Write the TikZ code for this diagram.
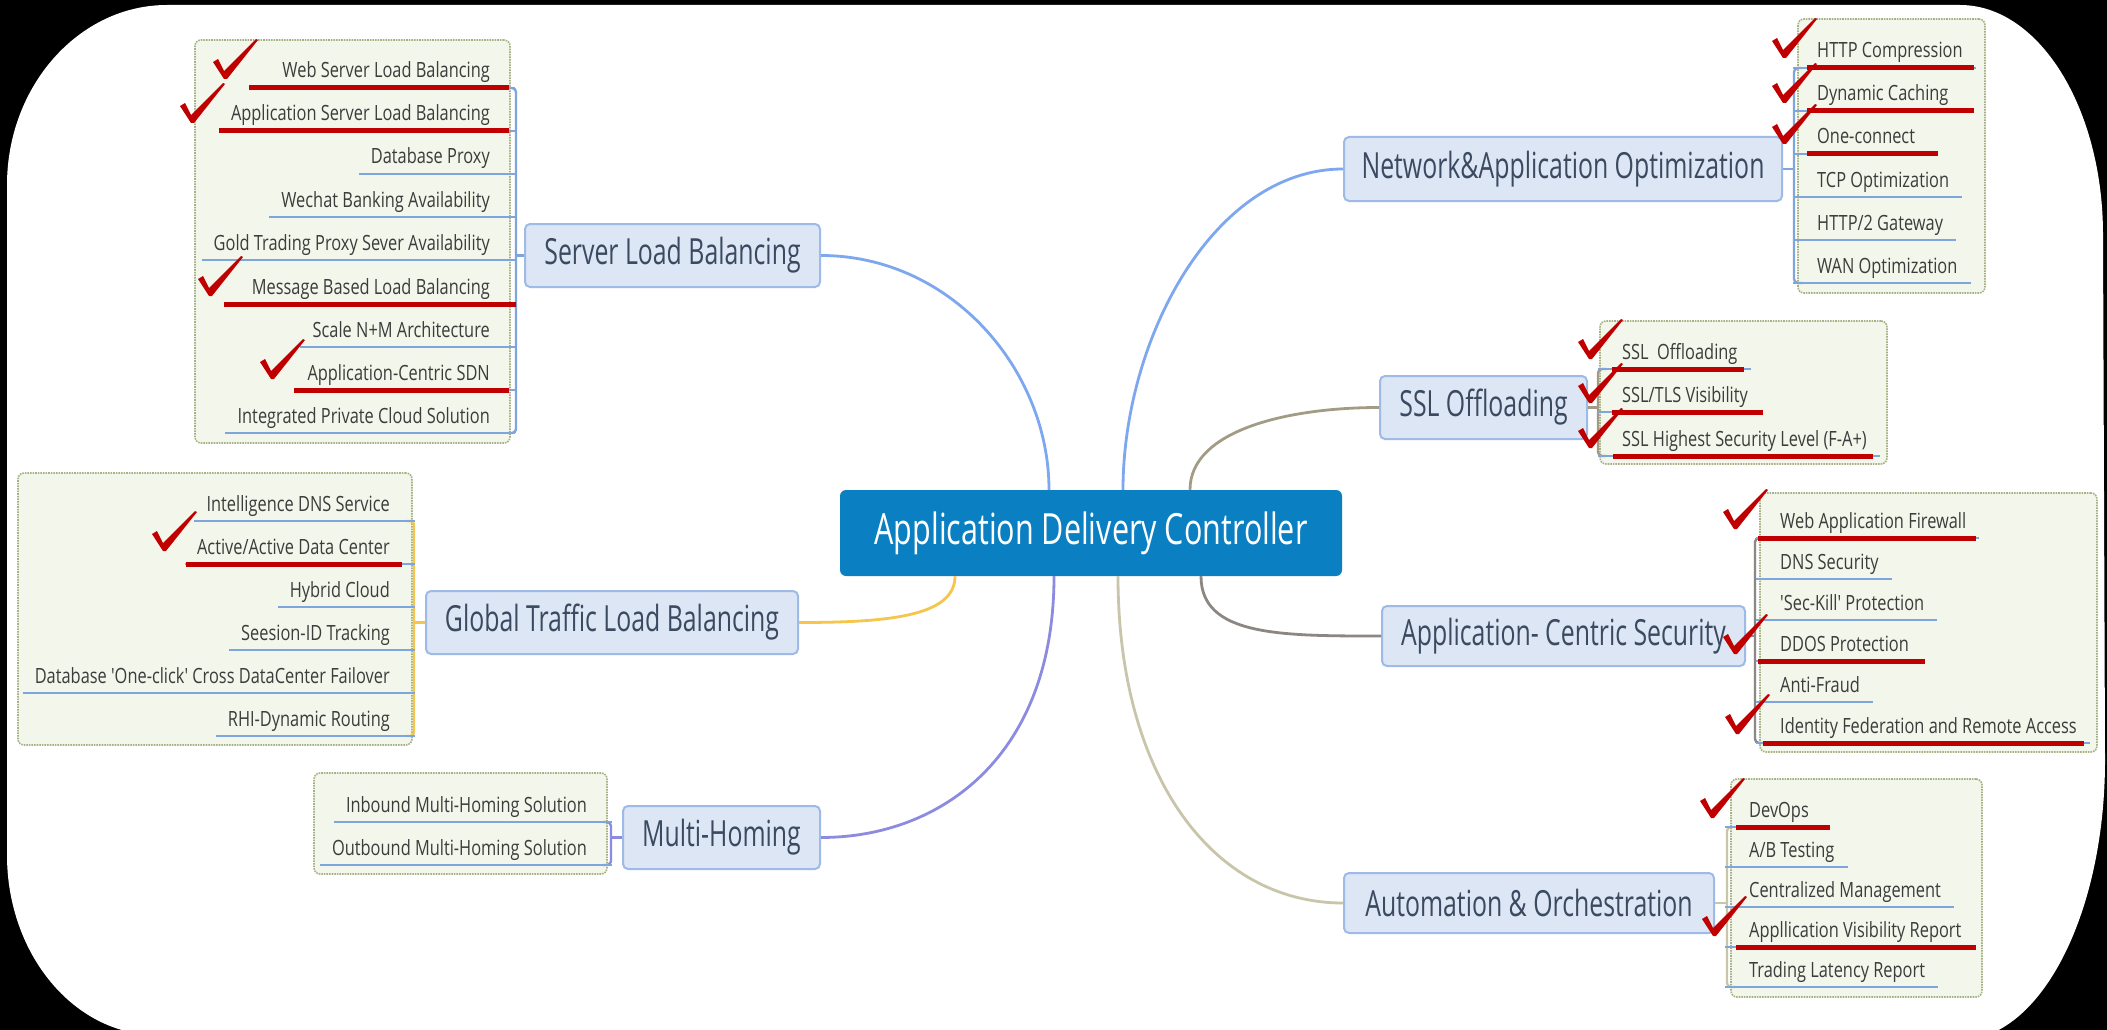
\documentclass[tikz,border=0pt]{standalone}
\usepackage{fontspec}
\setmainfont{Open Sans}
\newfontfamily\ctrfont{Open Sans}[FakeStretch=0.71]
\newfontfamily\brfont{Open Sans}[FakeStretch=0.69]
\newfontfamily\itfont{Open Sans}[FakeStretch=0.78]
\usetikzlibrary{calc}
\definecolor{adcblue}{HTML}{0A7FC2}
\definecolor{brfill}{HTML}{DCE6F4}
\definecolor{brborder}{HTML}{9DBBE6}
\definecolor{brtext}{HTML}{3B4A60}
\definecolor{grpfill}{HTML}{F3F6EA}
\definecolor{grpborder}{HTML}{A6B184}
\definecolor{itemcol}{HTML}{3C3C3C}
\definecolor{ulblue}{HTML}{7FA6DC}
\definecolor{chkred}{HTML}{C00000}
\definecolor{lnblue}{HTML}{7DA7EE}
\definecolor{lnolive}{HTML}{A39C85}
\definecolor{lngrey}{HTML}{8C8782}
\definecolor{lnkhaki}{HTML}{C9C5AA}
\definecolor{lnpurple}{HTML}{8D8BE0}
\definecolor{lnyellow}{HTML}{F5C54C}
\tikzset{
  adcbox/.style={rounded corners=6pt, fill=adcblue, text=white, minimum width=502pt, minimum height=86pt, inner sep=0pt, font=\ctrfont\fontsize{43}{50}\selectfont},
  brbox/.style={rounded corners=5pt, draw=brborder, line width=2pt, fill=brfill, text=brtext, minimum height=63pt, inner sep=0pt, font=\brfont\fontsize{36}{42}\selectfont},
  grpbox/.style={rounded corners=6pt, draw=grpborder, densely dotted, line width=1.6pt, fill=grpfill, inner sep=0pt},
  itemtext/.style={inner sep=0pt, text=itemcol, font=\itfont\fontsize{21}{25}\selectfont},
  uline/.style={draw=ulblue, line width=2.6pt},
  redline/.style={draw=chkred, line width=5pt},
  mainln/.style={line width=2.8pt},
  brk/.style={line width=2.4pt, rounded corners=4pt},
  chk/.pic={\fill[chkred] (-12,-16) -- (-7,-19) -- (-1,-7) -- (31,-39) -- (33,-38) -- (2,1) -- (-1,1) -- cycle;}
}
\newcommand\LItem[4]{%
  \node[itemtext, anchor=base east] (#1) at (#4,#2-10) {#3};
  \draw[uline] ($(#1.base west)+(-12,10)$) -- (#4+25,#2);}
\newcommand\RItem[4]{%
  \node[itemtext, anchor=base west] (#1) at (#4,#2-10) {#3};
  \draw[uline] (#4-24,#2) -- ($(#1.base east)+(13,10)$);}
\newcommand\RedL[3]{\draw[redline] ($(#1.base west)+(-#2,10)$) -- ($(#1.base east)+(#3,10)$);}
\begin{document}
\begin{tikzpicture}[x=1pt,y=-1pt]
\useasboundingbox (0,0) rectangle (2107,1030);
\clip (0,0) rectangle (2107,1030);
\fill[black] (0,0) rectangle (2107,1030);
\fill[white] (167,5) -- (1960,5) .. controls (2039,5) and (2103,108) .. (2103,235)
  -- (2105,760) .. controls (2105,915) and (2040,1040) .. (1960,1040)
  -- (157,1035) .. controls (74,1035) and (7,954) .. (7,855)
  -- (7,185) .. controls (7,86) and (79,5) .. (167,5) -- cycle;

% group boxes
\node[grpbox, minimum width=315pt, minimum height=403pt] (gslb) at (352.5,241.5) {};
\node[grpbox, minimum width=394pt, minimum height=272pt] (ggtlb) at (215,609) {};
\node[grpbox, minimum width=293pt, minimum height=101pt] (gmh) at (460.5,823.5) {};
\node[grpbox, minimum width=187pt, minimum height=274pt] (gnao) at (1891.5,156) {};
\node[grpbox, minimum width=287pt, minimum height=143pt] (gssl) at (1743.5,392.5) {};
\node[grpbox, minimum width=337pt, minimum height=259pt] (gacs) at (1928.5,622.5) {};
\node[grpbox, minimum width=251pt, minimum height=218pt] (gauto) at (1856.5,888) {};

% main nodes
\node[adcbox] (adc) at (1091,533) {Application Delivery Controller};
\node[brbox, minimum width=295pt] (slb) at (672.5,255.5) {Server Load Balancing};
\node[brbox, minimum width=372pt] (gtlb) at (612,622.5) {Global Traffic Load Balancing};
\node[brbox, minimum width=197pt] (mh) at (721.5,837.5) {Multi-Homing};
\node[brbox, minimum width=438pt, minimum height=64pt] (nao) at (1563,169) {Network\&Application Optimization};
\node[brbox, minimum width=207pt] (ssl) at (1483.5,407.5) {SSL Offloading};
\node[brbox, minimum width=363pt, minimum height=60pt] (acs) at (1563.5,636) {Application- Centric Security};
\node[brbox, minimum width=370pt, minimum height=60pt] (auto) at (1529,903) {Automation \& Orchestration};

% main connectors
\draw[mainln, draw=lnblue] ([xshift=-42pt]adc.north) .. controls +(0,-120) and +(130,0) .. (slb.east);
\draw[mainln, draw=lnblue] ([xshift=32pt]adc.north) .. controls +(0,-150) and +(-130,0) .. (nao.west);
\draw[mainln, draw=lnolive] ([xshift=99pt]adc.north) .. controls +(0,-60) and +(-90,0) .. (ssl.west);
\draw[mainln, draw=lngrey] ([xshift=110pt]adc.south) .. controls +(0,60) and +(-100,0) .. (acs.west);
\draw[mainln, draw=lnkhaki] ([xshift=27pt]adc.south) .. controls +(0,200) and +(-130,0) .. (auto.west);
\draw[mainln, draw=lnpurple] ([xshift=-37pt]adc.south) .. controls +(0,180) and +(120,0) .. (mh.east);
\draw[mainln, draw=lnyellow] ([xshift=-136pt]adc.south) .. controls +(0,40) and +(90,0) .. (gtlb.east);

% brackets
\draw[brk, draw=ulblue] (508,88) -- (516,88) -- (516,433) -- (508,433);
\draw[brk, draw=ulblue] (slb.west) -- ++(-9,0);
\draw[brk, draw=lnyellow] (406,521) -- (414,521) -- (414,736) -- (406,736);
\draw[brk, draw=lnyellow] (gtlb.west) -- ++(-12,0);
\draw[brk, draw=lnpurple] (603,822) -- (611,822) -- (611,865) -- (603,865);
\draw[brk, draw=lnpurple] (mh.west) -- ++(-12,0);
\draw[brk, draw=ulblue] (1802,68) -- (1794,68) -- (1794,283) -- (1802,283);
\draw[brk, draw=ulblue] (nao.east) -- ++(12,0);
\draw[brk, draw=lnolive] (1606,369) -- (1598,369) -- (1598,456) -- (1606,456);
\draw[brk, draw=lnolive] (ssl.east) -- ++(11,0);
\draw[brk, draw=lngrey] (1763,538) -- (1755,538) -- (1755,743) -- (1763,743);
\draw[brk, draw=lngrey] (acs.east) -- ++(10,0);
\draw[brk, draw=lnkhaki] (1735,827) -- (1727,827) -- (1727,987) -- (1735,987);
\draw[brk, draw=lnkhaki] (auto.east) -- ++(13,0);

% Server Load Balancing items
\LItem{s1}{88}{Web Server Load Balancing}{490}
\LItem{s2}{131}{Application Server Load Balancing}{490}
\LItem{s3}{174}{Database Proxy}{490}
\LItem{s4}{217}{Wechat Banking Availability}{490}
\LItem{s5}{260}{Gold Trading Proxy Sever Availability}{490}
\LItem{s6}{304}{Message Based Load Balancing}{490}
\LItem{s7}{347}{Scale N+M Architecture}{490}
\LItem{s8}{390}{Application-Centric SDN}{490}
\LItem{s9}{433}{Integrated Private Cloud Solution}{490}
% Global traffic items
\LItem{g1}{521}{Intelligence DNS Service}{390}
\LItem{g2}{564}{Active/Active Data Center}{390}
\LItem{g3}{607}{Hybrid Cloud}{390}
\LItem{g4}{650}{Seesion-ID Tracking}{390}
\LItem{g5}{693}{Database 'One-click' Cross DataCenter Failover}{390}
\LItem{g6}{736}{RHI-Dynamic Routing}{390}
% Multi-homing items
\LItem{m1}{822}{Inbound Multi-Homing Solution}{587}
\LItem{m2}{865}{Outbound Multi-Homing Solution}{587}
% Network & application optimization
\RItem{n1}{68}{HTTP Compression}{1817}
\RItem{n2}{111}{Dynamic Caching}{1817}
\RItem{n3}{154}{One-connect}{1817}
\RItem{n4}{197}{TCP Optimization}{1817}
\RItem{n5}{240}{HTTP/2 Gateway}{1817}
\RItem{n6}{283}{WAN Optimization}{1817}
% SSL
\RItem{l1}{369}{SSL\ \ Offloading}{1622}
\RItem{l2}{412}{SSL/TLS Visibility}{1622}
\RItem{l3}{456}{SSL Highest Security Level (F-A+)}{1622}
% Security
\RItem{a1}{538}{Web Application Firewall}{1780}
\RItem{a2}{579}{DNS Security}{1780}
\RItem{a3}{620}{'Sec-Kill' Protection}{1780}
\RItem{a4}{661}{DDOS Protection}{1780}
\RItem{a5}{702}{Anti-Fraud}{1780}
\RItem{a6}{743}{Identity Federation and Remote Access}{1780}
% Automation
\RItem{u1}{827}{DevOps}{1749}
\RItem{u2}{867}{A/B Testing}{1749}
\RItem{u3}{907}{Centralized Management}{1749}
\RItem{u4}{947}{Appllication Visibility Report}{1749}
\RItem{u5}{987}{Trading Latency Report}{1749}

% red underlines
\RedL{s1}{33}{19}
\RedL{s2}{12}{19}
\RedL{s6}{28}{26}
\RedL{s8}{13}{19}
\RedL{g2}{11}{12}
\RedL{n1}{10}{11}
\RedL{n2}{10}{25}
\RedL{n3}{10}{23}
\RedL{l1}{10}{6}
\RedL{l2}{10}{15}
\RedL{l3}{9}{6}
\RedL{a1}{22}{10}
\RedL{a4}{22}{16}
\RedL{a6}{17}{7}
\RedL{u1}{13}{21}
\RedL{u4}{13}{14}

% check marks
\pic at (225,78) {chk};
\pic at (192,122) {chk};
\pic at (210,295) {chk};
\pic at (272,378) {chk};
\pic at (164,550) {chk};
\pic at (1784,57) {chk};
\pic at (1784,102) {chk};
\pic at (1784,143) {chk};
\pic at (1590,358) {chk};
\pic at (1590,402) {chk};
\pic at (1590,447) {chk};
\pic at (1735,528) {chk};
\pic at (1735,653) {chk};
\pic at (1737,733) {chk};
\pic at (1712,817) {chk};
\pic at (1714,935) {chk};
\end{tikzpicture}
\end{document}
